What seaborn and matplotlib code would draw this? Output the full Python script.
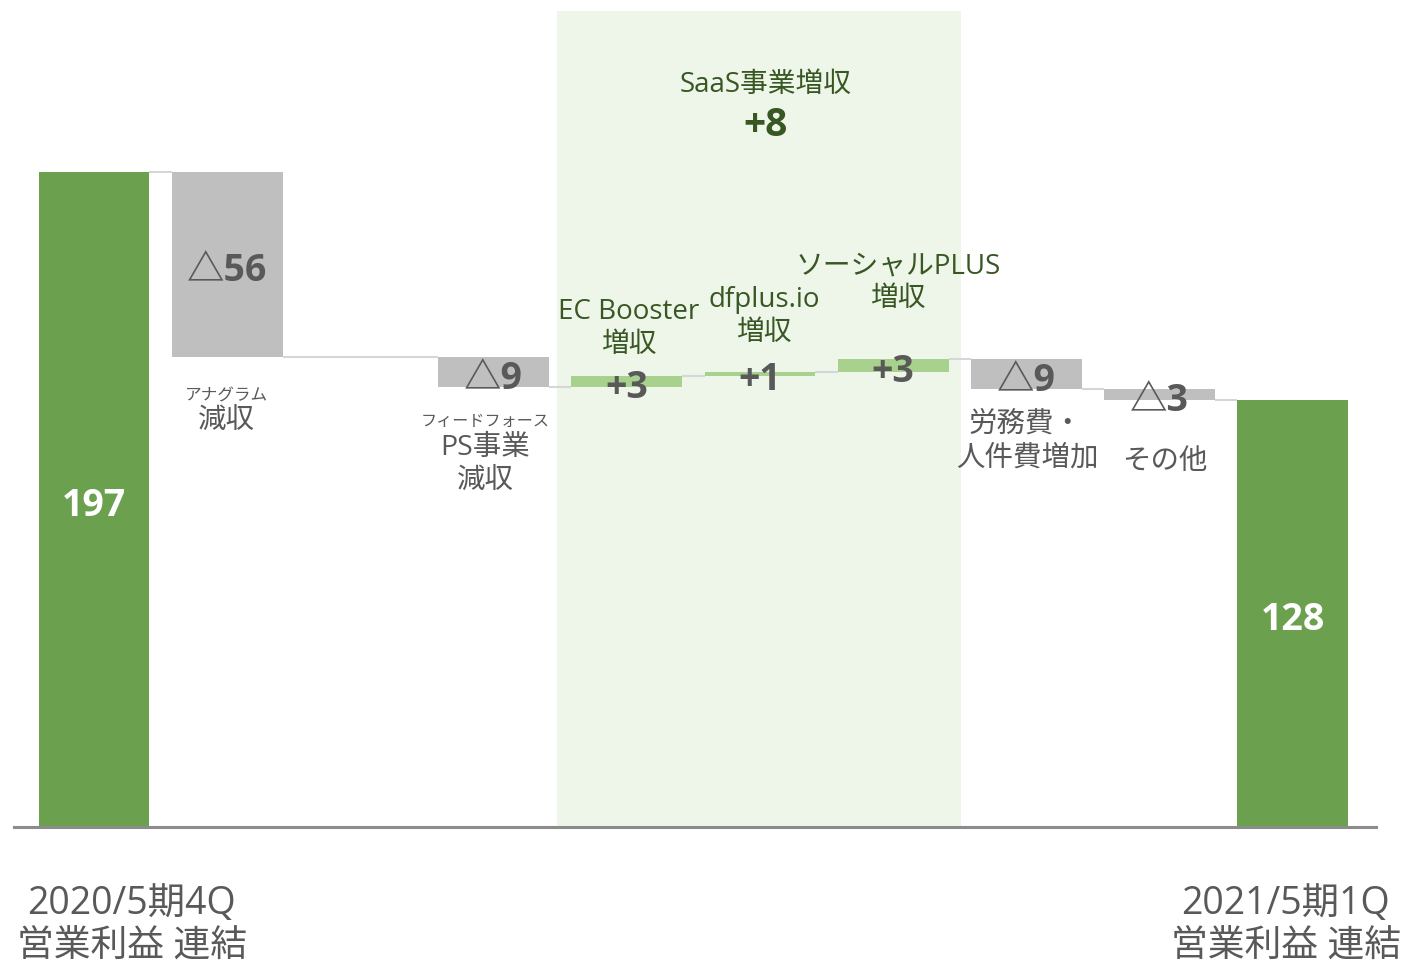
import numpy as np
import pandas as pd
import seaborn as sns
import matplotlib.pyplot as plt

# slots on the x axis ("gap" stays empty)
categories = ["start", "anagram", "gap", "ps", "ec", "dfplus", "social", "labor", "other", "end"]
start_value = 197.0
step_keys = ["anagram", "ps", "ec", "dfplus", "social", "labor", "other"]
step_values = [-55.8, -8.9, 3.3, 1.3, 3.7, -8.9, -3.3]
value_labels = ["197", "△56", "△9", "+3", "+1", "+3", "△9", "△3", "128"]
saas_total = "+8"

sns.set_theme(style="white")
plt.rcParams["font.family"] = ["Open Sans", "Noto Sans CJK JP", "DejaVu Sans"]

W, H = 1402, 964
DARK_GREEN = "#6aa04e"
LIGHT_GREEN = "#a9d18e"
GREY_BAR = "#bfbfbf"
SHADE = "#eef5e9"
TXT = "#595959"
GTXT = "#385723"

# build floating bars
keys = ["start"] + step_keys + ["end"]
levels = [start_value]
for v in step_values:
    levels.append(levels[-1] + v)
bottoms = [0.0]
heights = [start_value]
colors = [DARK_GREEN]
for i, v in enumerate(step_values):
    bottoms.append(min(levels[i], levels[i + 1]))
    heights.append(abs(v))
    colors.append(LIGHT_GREEN if v > 0 else GREY_BAR)
bottoms.append(0.0)
heights.append(levels[-1])
colors.append(DARK_GREEN)

df = pd.DataFrame({"slot": keys, "height": heights, "bottom": bottoms})
pos = [categories.index(k) for k in keys]

fig = plt.figure(figsize=(W / 100, H / 100), dpi=100)
ax = fig.add_axes([14 / W, (H - 827) / H, (1376 - 14) / W, (827 - 11) / H])

bw = 0.833
sns.barplot(data=df, x="slot", y="height", order=categories, bottom=df["bottom"].values,
            width=bw, errorbar=None, color=GREY_BAR, linewidth=0, ax=ax)
for patch, c in zip(ax.containers[0], colors):
    patch.set_facecolor(c)
    patch.set_edgecolor("none")

# SaaS band
ax.axvspan(3.476, 6.509, color=SHADE, lw=0, zorder=0)

# connectors
for i in range(len(keys) - 1):
    ax.hlines(levels[min(i, len(levels) - 1)], pos[i] + bw / 2, pos[i + 1] - bw / 2,
              color="#d6d6d6", lw=1.5, zorder=0.5)

# value labels
for i, lab in enumerate(value_labels):
    col = "white" if colors[i] == DARK_GREEN else TXT
    ax.annotate(lab, (pos[i], bottoms[i] + heights[i] / 2), xytext=(0, -4.5),
                textcoords="offset points", ha="center", va="center",
                fontsize=27, fontweight="bold", color=col, zorder=5)

ax.set_xlim(-0.6006, 9.6246)
ax.set_ylim(0, 245.4)
ax.set_xlabel("")
ax.set_ylabel("")
ax.set_xticks([])
ax.set_yticks([])
for s in ["top", "left", "right"]:
    ax.spines[s].set_visible(False)
ax.spines["bottom"].set_color("#8c8c8c")
ax.spines["bottom"].set_linewidth(2.2)


def label(s, px, py, size, color=TXT, weight="normal"):
    fig.text(px / W, 1 - (py + 3) / H, s, ha="center", va="center", fontsize=size,
             color=color, fontweight=weight)


label("アナグラム", 226, 393, 12)
label("減収", 226, 418, 20.5)
label("フィードフォース", 485, 419, 11.6)
label("PS事業", 485, 445, 20.5)
label("減収", 485, 478, 20.5)
label("EC Booster", 629, 309, 20, GTXT)
label("増収", 629, 342, 20, GTXT)
label("dfplus.io", 764, 297, 20, GTXT)
label("増収", 764, 330, 20, GTXT)
label("ソーシャルPLUS", 898, 264, 20, GTXT)
label("増収", 898, 296, 20, GTXT)
label("労務費・", 1025, 422, 20.5)
label("人件費増加", 1027, 456, 20.5)
label("その他", 1165, 459, 20.5)
label("SaaS事業増収", 766, 82, 20, GTXT)
label(saas_total, 766, 122, 28, GTXT, "bold")
label("2020/5期4Q", 131, 901, 27)
label("営業利益 連結", 132, 944, 26.5)
label("2021/5期1Q", 1285, 901, 27)
label("営業利益 連結", 1286, 944, 26.5)

fig.savefig("out.png", dpi=100)
